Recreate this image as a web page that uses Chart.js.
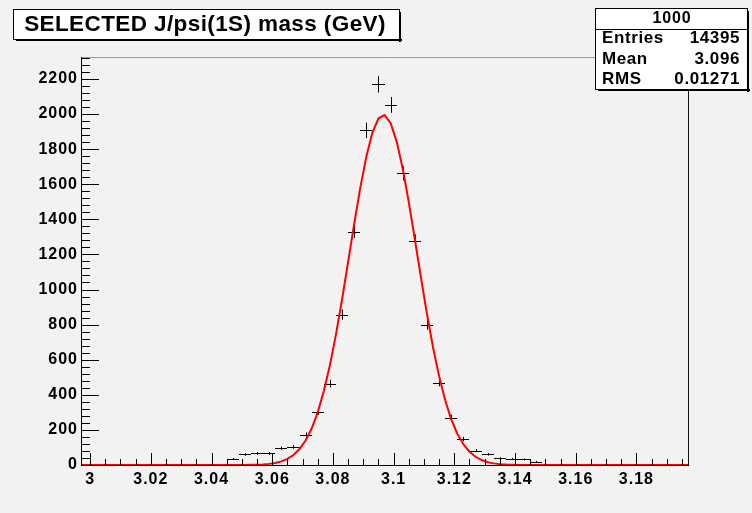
<!DOCTYPE html>
<html>
<head>
<meta charset="utf-8">
<script src="https://cdn.jsdelivr.net/npm/chart.js@4.4.0/dist/chart.umd.min.js"></script>
<style>
html,body{margin:0;padding:0;background:#ffffff;}
#wrap{width:752px;height:513px;position:relative;}
canvas{display:block;}
</style>
</head>
<body>
<div id="wrap"><canvas id="c" width="752" height="513"></canvas></div>
<script>
// ---------- data ----------
const histTitle = 'SELECTED J/psi(1S) mass (GeV)';
const histName = '1000';
const statLabels = ['Entries', 'Mean', 'RMS'];
const statValues = ['14395', '3.096', '0.01271'];

const binWidth = 0.004;
const binCenters = [3.047, 3.051, 3.055, 3.059, 3.063, 3.067, 3.071, 3.075, 3.079, 3.083,
                    3.087, 3.091, 3.095, 3.099, 3.103, 3.107, 3.111, 3.115, 3.119, 3.123,
                    3.127, 3.131, 3.135, 3.139, 3.143, 3.147];
const binCounts  = [34, 60, 66, 66, 95, 103, 173, 302, 464, 857,
                    1330, 1907, 2169, 2052, 1662, 1278, 800, 470, 270, 148,
                    82, 61, 38, 35, 32, 19];

const fitX = [2.997, 3.039, 3.041, 3.043, 3.045, 3.047, 3.049, 3.051, 3.053, 3.055, 3.057, 3.059,
              3.061, 3.063, 3.065, 3.067, 3.069, 3.071, 3.073, 3.075, 3.077, 3.079,
              3.081, 3.083, 3.085, 3.087, 3.089, 3.091, 3.093, 3.095, 3.097, 3.099,
              3.101, 3.103, 3.105, 3.107, 3.109, 3.111, 3.113, 3.115, 3.117, 3.119,
              3.121, 3.123, 3.125, 3.127, 3.129, 3.131, 3.133, 3.135, 3.137, 3.139,
              3.141, 3.143, 3.145, 3.147, 3.197];
const fitY = [0, 0, 0, 0, 0, 0.1, 0.2, 0.4, 0.9, 1.8, 3.4, 6.4,
              11.6, 20.4, 34.7, 57.0, 90.7, 139.6, 208.1, 300.4, 419.7, 567.6,
              743.1, 941.9, 1155.6, 1372.5, 1578.1, 1756.6, 1892.8, 1974.4, 1993.7, 1948.9,
              1844.3, 1689.5, 1498.2, 1286.3, 1069.0, 860.0, 669.7, 505.0, 368.6, 260.4,
              178.1, 118.0, 75.6, 46.9, 28.2, 16.4, 9.2, 5.0, 2.6, 1.4,
              0.7, 0.3, 0.1, 0, 0];

const xTickValues = [3, 3.02, 3.04, 3.06, 3.08, 3.1, 3.12, 3.14, 3.16, 3.18];
const yTickValues = [0, 200, 400, 600, 800, 1000, 1200, 1400, 1600, 1800, 2000, 2200];
const xRange = [2.997, 3.197];
const yRange = [0, 2325];
const xMinorStep = 0.005;
const yMinorStep = 40;

// ---------- styling ----------
const FONT = "'Liberation Sans', Arial, Helvetica, sans-serif";
const BG = '#f2f2f2';

const bgPlugin = {
  id: 'bg',
  beforeDraw(chart) {
    const c = chart.ctx;
    c.fillStyle = BG;
    c.fillRect(0, 0, chart.width, chart.height);
    c.letterSpacing = '1px';
  }
};

const histPlugin = {
  id: 'hist',
  beforeDatasetsDraw(chart) {
    const c = chart.ctx;
    const xs = chart.scales.x, ys = chart.scales.y;
    const a = chart.chartArea;
    c.save();
    c.beginPath();
    c.rect(a.left, a.top, a.right - a.left, a.bottom - a.top);
    c.clip();
    c.strokeStyle = '#000';
    c.lineWidth = 1;
    binCenters.forEach((cx, i) => {
      const v = binCounts[i];
      const e = Math.sqrt(v);
      const x0 = Math.round(xs.getPixelForValue(cx - binWidth / 2));
      const x1 = Math.round(xs.getPixelForValue(cx + binWidth / 2));
      const xc = Math.round(xs.getPixelForValue(cx)) + 0.5;
      const yc = Math.round(ys.getPixelForValue(v)) + 0.5;
      const yt = ys.getPixelForValue(v + e);
      const yb = ys.getPixelForValue(v - e);
      c.beginPath();
      c.moveTo(x0, yc); c.lineTo(x1, yc);
      c.moveTo(xc, yt); c.lineTo(xc, yb);
      c.stroke();
    });
    c.restore();
  }
};

const decorPlugin = {
  id: 'decor',
  afterDatasetsDraw(chart) {
    const c = chart.ctx;
    const xs = chart.scales.x, ys = chart.scales.y;
    const a = chart.chartArea;
    c.save();
    c.lineWidth = 1;
    c.strokeStyle = '#9a9a9a';
    c.beginPath(); c.moveTo(a.left, Math.round(a.top) + 0.5); c.lineTo(a.right, Math.round(a.top) + 0.5); c.stroke();
    c.strokeStyle = '#111';
    c.beginPath(); c.moveTo(Math.round(a.right) + 0.5, a.top); c.lineTo(Math.round(a.right) + 0.5, a.bottom); c.stroke();
    c.strokeStyle = '#000';
    c.beginPath();
    c.moveTo(Math.round(a.left) + 0.5, a.top); c.lineTo(Math.round(a.left) + 0.5, a.bottom + 0.5);
    c.stroke();
    const yb = Math.round(a.bottom);
    c.beginPath();
    for (let v = Math.ceil(xRange[0] / xMinorStep - 1e-9) * xMinorStep; v <= xRange[1] + 1e-9; v += xMinorStep) {
      const px = Math.round(xs.getPixelForValue(v)) + 0.5;
      const isMajor = xTickValues.some(t => Math.abs(t - v) < 1e-6);
      c.moveTo(px, yb); c.lineTo(px, yb - (isMajor ? 12 : 6));
    }
    c.stroke();
    const xl = Math.round(a.left);
    c.beginPath();
    for (let v = yRange[0]; v <= yRange[1] + 1e-9; v += yMinorStep) {
      const py = Math.round(ys.getPixelForValue(v)) + 0.5;
      const isMajor = yTickValues.includes(v);
      c.moveTo(xl, py); c.lineTo(xl + (isMajor ? 18 : 9), py);
    }
    c.stroke();
    c.restore();
  },
  afterDraw(chart) {
    const c = chart.ctx;
    c.save();
    // title box
    const tb = {x: 13, y: 9, w: 386, h: 30};
    c.fillStyle = '#000';
    c.fillRect(tb.x + 3, tb.y + tb.h, tb.w, 2);
    c.fillRect(tb.x + tb.w, tb.y + 3, 2, tb.h);
    c.fillStyle = '#fff';
    c.fillRect(tb.x, tb.y, tb.w, tb.h);
    c.strokeStyle = '#000'; c.lineWidth = 1;
    c.strokeRect(tb.x + 0.5, tb.y + 0.5, tb.w, tb.h);
    c.fillStyle = '#000';
    c.letterSpacing = '0.4px';
    c.font = "bold 22.5px " + FONT;
    c.textAlign = 'center'; c.textBaseline = 'middle';
    c.fillText(histTitle, tb.x + tb.w / 2 - 1, tb.y + tb.h / 2 + 1);

    // stats box
    const sb = {x: 595, y: 8, w: 152, h: 81};
    c.fillStyle = '#000';
    c.fillRect(sb.x + 3, sb.y + sb.h, sb.w, 2);
    c.fillRect(sb.x + sb.w, sb.y + 3, 2, sb.h);
    c.fillStyle = '#fff';
    c.fillRect(sb.x, sb.y, sb.w, sb.h);
    c.strokeStyle = '#000';
    c.strokeRect(sb.x + 0.5, sb.y + 0.5, sb.w, sb.h);
    c.beginPath(); c.moveTo(sb.x, 29.5); c.lineTo(sb.x + sb.w, 29.5); c.stroke();
    c.fillStyle = '#000';
    c.letterSpacing = '0.8px';
    c.font = "bold 16px " + FONT;
    c.textAlign = 'center';
    c.fillText(histName, sb.x + sb.w / 2 + 1, 19);
    c.font = "bold 17px " + FONT;
    c.letterSpacing = '0.6px';
    const rowsY = [38.5, 59, 79.5];
    statLabels.forEach((lab, i) => {
      c.textAlign = 'left';
      c.fillText(lab, 602, rowsY[i]);
      c.textAlign = 'right';
      c.fillText(statValues[i], 740, rowsY[i]);
    });
    c.restore();
  }
};

const tickFont = {family: FONT, size: 16, weight: 'bold'};

new Chart(document.getElementById('c').getContext('2d'), {
  type: 'scatter',
  data: {
    datasets: [
      {
        label: 'fit',
        data: fitX.map((x, i) => ({x: x, y: fitY[i]})),
        showLine: true,
        borderColor: '#ff0000',
        borderWidth: 2,
        pointRadius: 0,
        tension: 0,
        fill: false
      },
      {
        label: 'hist',
        data: binCenters.map((x, i) => ({x: x, y: binCounts[i]})),
        showLine: false,
        pointRadius: 0,
        borderWidth: 0
      }
    ]
  },
  options: {
    responsive: false,
    animation: false,
    devicePixelRatio: 1,
    layout: {padding: {left: 0, right: 752 - 688, top: 57, bottom: 0}},
    plugins: {legend: {display: false}, tooltip: {enabled: false}, title: {display: false}},
    scales: {
      x: {
        type: 'linear', min: xRange[0], max: xRange[1],
        grid: {display: false, drawTicks: false},
        border: {display: true, color: '#000', width: 1},
        ticks: {autoSkip: false, maxRotation: 0, minRotation: 0, padding: 5, color: '#000', font: tickFont,
                callback: v => String(v)},
        afterBuildTicks: s => { s.ticks = xTickValues.map(v => ({value: v})); },
        afterFit: s => { s.height = 513 - 465; }
      },
      y: {
        type: 'linear', min: yRange[0], max: yRange[1],
        grid: {display: false, drawTicks: false},
        border: {display: true, color: '#000', width: 1},
        ticks: {autoSkip: false, padding: 3, color: '#000', font: tickFont,
                callback: v => String(v)},
        afterBuildTicks: s => { s.ticks = yTickValues.map(v => ({value: v})); },
        afterFit: s => { s.width = 81; }
      }
    }
  },
  plugins: [bgPlugin, histPlugin, decorPlugin]
});
</script>
</body>
</html>
